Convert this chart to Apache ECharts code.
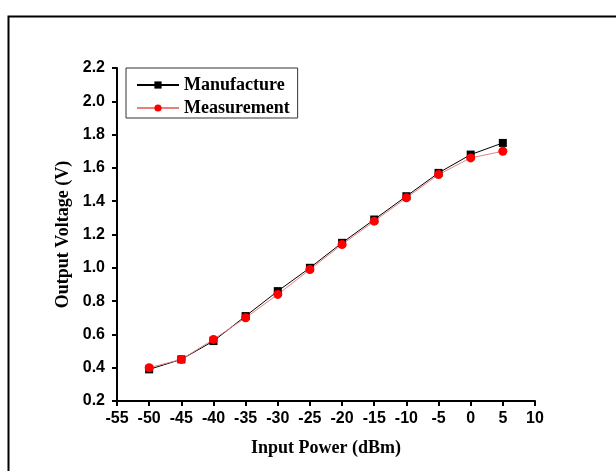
<!DOCTYPE html>
<html>
<head>
<meta charset="utf-8">
<script src="https://cdn.jsdelivr.net/npm/echarts@6/dist/echarts.min.js"></script>
<style>
html,body{margin:0;padding:0;background:#fff;}
#chart{width:616px;height:471px;}
</style>
</head>
<body>
<div id="chart"></div>
<script>
const inputPower = [-50, -45, -40, -35, -30, -25, -20, -15, -10, -5, 0, 5];
const manufacture = [0.39, 0.45, 0.56, 0.71, 0.86, 1.00, 1.15, 1.29, 1.43, 1.57, 1.68, 1.75];
const measurement = [0.40, 0.45, 0.57, 0.70, 0.84, 0.99, 1.14, 1.28, 1.42, 1.56, 1.66, 1.70];
const seriesNames = ['Manufacture', 'Measurement'];
const xTitle = 'Input Power (dBm)';
const yTitle = 'Output Voltage (V)';

const chart = echarts.init(document.getElementById('chart'), null, {renderer: 'canvas'});
const tickFont = {color: '#000', fontFamily: 'Liberation Sans, Arial, sans-serif', fontWeight: 'bold', fontSize: 16};
const titleFont = {color: '#000', fontFamily: 'Liberation Serif, Times New Roman, serif', fontWeight: 'bold', fontSize: 18};
const axisLine = {show: true, onZero: false, lineStyle: {color: '#000', width: 2}};

chart.setOption({
  animation: false,
  backgroundColor: '#fff',
  graphic: [{
    type: 'rect', left: 6, top: 14, z: -1,
    shape: {width: 640, height: 480},
    style: {fill: 'none', stroke: '#000', lineWidth: 2}
  }],
  grid: {left: 117, right: 81, top: 68, bottom: 70, containLabel: false},
  legend: {
    left: 126, top: 68, orient: 'vertical',
    data: seriesNames,
    borderColor: '#333', borderWidth: 1,
    padding: [8, 8, 1, 10],
    itemWidth: 42, itemHeight: 9, itemGap: 5,
    textStyle: Object.assign({}, titleFont, {padding: [0, 0, 0, 0]})
  },
  xAxis: {
    type: 'value', min: -55, max: 10, interval: 5,
    name: xTitle, nameLocation: 'middle', nameGap: 38,
    nameTextStyle: titleFont,
    axisLine: axisLine,
    axisTick: {show: true, inside: false, length: 5, lineStyle: {color: '#000', width: 2}},
    axisLabel: Object.assign({margin: 10}, tickFont),
    splitLine: {show: false}
  },
  yAxis: {
    type: 'value', min: 0.2, max: 2.2, interval: 0.2,
    name: yTitle, nameLocation: 'middle', nameGap: 38,
    nameTextStyle: titleFont,
    axisLine: axisLine,
    axisTick: {show: true, inside: false, length: 5, lineStyle: {color: '#000', width: 2}},
    axisLabel: Object.assign({margin: 12, formatter: v => v.toFixed(1)}, tickFont),
    splitLine: {show: false}
  },
  series: [
    {
      name: seriesNames[0], type: 'line',
      data: inputPower.map((x, i) => [x, manufacture[i]]),
      symbol: 'rect', symbolSize: 8,
      itemStyle: {color: '#000'},
      lineStyle: {color: '#000', width: 1}
    },
    {
      name: seriesNames[1], type: 'line',
      data: inputPower.map((x, i) => [x, measurement[i]]),
      symbol: 'circle', symbolSize: 9,
      itemStyle: {color: '#ff0000'},
      lineStyle: {color: '#e88080', width: 1}
    }
  ]
});
</script>
</body>
</html>
